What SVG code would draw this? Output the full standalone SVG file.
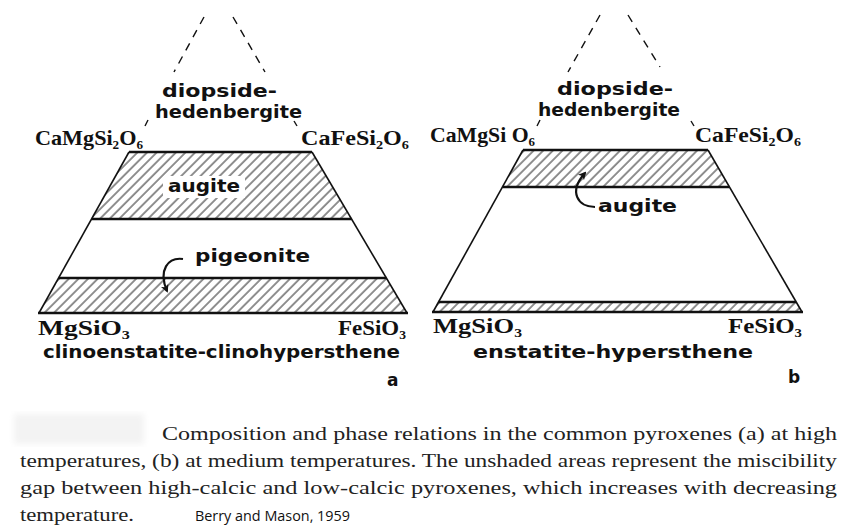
<svg xmlns="http://www.w3.org/2000/svg" width="856" height="527" viewBox="0 0 856 527">
<style>
.frm{font-family:"Liberation Serif","Times New Roman",serif;font-weight:bold;font-size:22px;fill:#111}
.sub{font-size:13px}
.min{font-family:"DejaVu Sans","Liberation Sans",sans-serif;font-weight:bold;font-size:17px;fill:#111}
.cap{font-family:"Liberation Serif","Times New Roman",serif;font-size:19px;fill:#222}
.cite{font-family:"Open Sans","Liberation Sans",sans-serif;font-size:14px;fill:#111}
.edge{stroke:#111;stroke-width:1.6;fill:none}
.bold{stroke:#111;stroke-width:2.4;fill:none}
.dash{stroke:#111;stroke-width:1.4;stroke-dasharray:8 7;fill:none}
.tick{stroke:#111;stroke-width:1.4;fill:none}
.arr{stroke:#111;stroke-width:2.2;fill:none;marker-end:url(#ah)}
.hatch{fill:url(#hp);stroke:none}
</style>
<defs>
<pattern id="hp" width="6.8" height="6.8" patternUnits="userSpaceOnUse" patternTransform="rotate(45)">
<line x1="1" y1="0" x2="1" y2="6.8" stroke="#222" stroke-width="1"/>
</pattern>
<marker id="ah" markerWidth="8" markerHeight="8" refX="6" refY="4" orient="auto" markerUnits="userSpaceOnUse">
<path d="M0,0 L8,4 L0,8 L2,4 Z" fill="#111"/>
</marker>
<filter id="blur"><feGaussianBlur stdDeviation="3"/></filter>
</defs>
<rect width="856" height="527" fill="#fff"/>

<g id="diagram-a">
<g id="a-fields">
<polygon class="hatch" points="129,152 312,152 351.5,219 91.5,219"/>
<rect x="163" y="176" width="82" height="22" fill="#fff"/>
<polygon class="hatch" points="58.6,278 386.3,278 407,313 39,313"/>
<line class="bold" x1="129" y1="152" x2="312" y2="152"/>
<line class="bold" x1="91.5" y1="219" x2="351.5" y2="219"/>
<line class="bold" x1="58.6" y1="278" x2="386.3" y2="278"/>
<line class="bold" x1="38" y1="313" x2="408" y2="313"/>
<line class="edge" x1="129" y1="152" x2="39" y2="313"/>
<line class="edge" x1="312" y1="152" x2="407" y2="313"/>
</g>
<g id="a-apex">
<line class="dash" x1="204" y1="17" x2="174" y2="72"/>
<line class="dash" x1="233" y1="17" x2="265" y2="72"/>
<line class="tick" x1="148" y1="120" x2="145" y2="126"/>
<line class="tick" x1="294" y1="121" x2="297" y2="126"/>
</g>
<g id="a-labels">
<text class="min" x="162" y="97" textLength="115" lengthAdjust="spacingAndGlyphs">diopside-</text>
<text class="min" x="155" y="118" textLength="147" lengthAdjust="spacingAndGlyphs">hedenbergite</text>
<text class="frm" x="35" y="145" textLength="108" lengthAdjust="spacingAndGlyphs">CaMgSi<tspan class="sub" dy="4">2</tspan><tspan dy="-4">O</tspan><tspan class="sub" dy="4">6</tspan></text>
<text class="frm" x="301" y="145" textLength="108" lengthAdjust="spacingAndGlyphs">CaFeSi<tspan class="sub" dy="4">2</tspan><tspan dy="-4">O</tspan><tspan class="sub" dy="4">6</tspan></text>
<text class="min" x="168" y="192" textLength="72" lengthAdjust="spacingAndGlyphs">augite</text>
<text class="min" x="195" y="262" textLength="115" lengthAdjust="spacingAndGlyphs">pigeonite</text>
<path class="arr" d="M183,259 C168,257 158,270 167,291"/>
<text class="frm" x="38" y="335" textLength="92" lengthAdjust="spacingAndGlyphs">MgSiO<tspan class="sub" dy="4">3</tspan></text>
<text class="frm" x="338" y="335" textLength="68" lengthAdjust="spacingAndGlyphs">FeSiO<tspan class="sub" dy="4">3</tspan></text>
<text class="min" x="43" y="358" textLength="357" lengthAdjust="spacingAndGlyphs">clinoenstatite-clinohypersthene</text>
<text class="min" x="387" y="386" font-size="21">a</text>
</g>
</g>

<g id="diagram-b">
<g id="b-fields">
<polygon class="hatch" points="523,150 708,150 729.5,187 502.5,187"/>
<polygon class="hatch" points="438.5,302 796.2,302 802,312 433,312"/>
<line class="bold" x1="523" y1="150" x2="708" y2="150"/>
<line class="bold" x1="502.5" y1="187" x2="729.5" y2="187"/>
<line class="bold" x1="438.5" y1="302" x2="796.2" y2="302"/>
<line class="bold" x1="432" y1="312" x2="803" y2="312"/>
<line class="edge" x1="523" y1="150" x2="433" y2="312"/>
<line class="edge" x1="708" y1="150" x2="802" y2="312"/>
</g>
<g id="b-apex">
<line class="dash" x1="600" y1="15" x2="568" y2="72"/>
<line class="dash" x1="628" y1="15" x2="660" y2="67"/>
<line class="tick" x1="540" y1="120" x2="537" y2="126"/>
<line class="tick" x1="691" y1="121" x2="694" y2="126"/>
</g>
<g id="b-labels">
<text class="min" x="557" y="95" textLength="116" lengthAdjust="spacingAndGlyphs">diopside-</text>
<text class="min" x="538" y="116" textLength="142" lengthAdjust="spacingAndGlyphs">hedenbergite</text>
<text class="frm" x="430" y="142" textLength="105" lengthAdjust="spacingAndGlyphs">CaMgSi O<tspan class="sub" dy="4">6</tspan></text>
<text class="frm" x="695" y="142" textLength="106" lengthAdjust="spacingAndGlyphs">CaFeSi<tspan class="sub" dy="4">2</tspan><tspan dy="-4">O</tspan><tspan class="sub" dy="4">6</tspan></text>
<text class="min" x="598" y="212" textLength="79" lengthAdjust="spacingAndGlyphs">augite</text>
<path class="arr" d="M595,207 C578,207 568,192 585,173"/>
<text class="frm" x="433" y="333" textLength="89" lengthAdjust="spacingAndGlyphs">MgSiO<tspan class="sub" dy="4">3</tspan></text>
<text class="frm" x="728" y="333" textLength="74" lengthAdjust="spacingAndGlyphs">FeSiO<tspan class="sub" dy="4">3</tspan></text>
<text class="min" x="473" y="358" textLength="280" lengthAdjust="spacingAndGlyphs">enstatite-hypersthene</text>
<text class="min" x="788" y="383" font-size="21">b</text>
</g>
</g>

<g id="caption">
<rect x="14" y="414" width="130" height="30" fill="#f3f3f3" filter="url(#blur)"/>
<text class="cap" x="162" y="440" textLength="675" lengthAdjust="spacingAndGlyphs">Composition and phase relations in the common pyroxenes (a) at high</text>
<text class="cap" x="20" y="467" textLength="817" lengthAdjust="spacingAndGlyphs">temperatures, (b) at medium temperatures. The unshaded areas represent the miscibility</text>
<text class="cap" x="20" y="494" textLength="817" lengthAdjust="spacingAndGlyphs">gap between high-calcic and low-calcic pyroxenes, which increases with decreasing</text>
<text class="cap" x="20" y="521" textLength="114" lengthAdjust="spacingAndGlyphs">temperature.</text>
<text class="cite" x="195" y="521" textLength="155" lengthAdjust="spacingAndGlyphs">Berry and Mason, 1959</text>
</g>
</svg>
